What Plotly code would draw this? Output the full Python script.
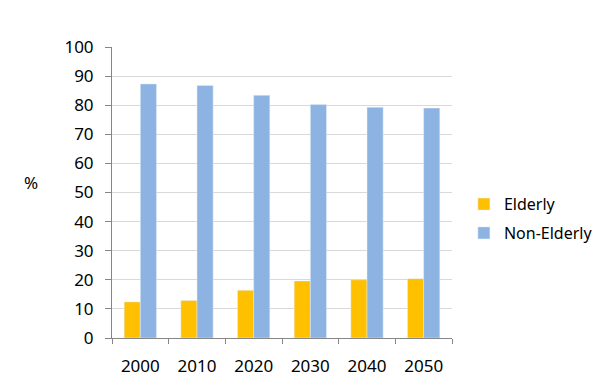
import plotly.graph_objects as go

years = ["2000", "2010", "2020", "2030", "2040", "2050"]
elderly = [12.4, 12.9, 16.4, 19.6, 20.0, 20.4]
non_elderly = [87.3, 86.8, 83.4, 80.2, 79.3, 79.0]
y_ticks = [0, 10, 20, 30, 40, 50, 60, 70, 80, 90, 100]

font = "Noto Sans"

fig = go.Figure()
fig.add_trace(go.Bar(x=years, y=elderly, name="Elderly", marker_color="#FFC000",
                     legendgroup="a"))
fig.add_trace(go.Bar(x=years, y=non_elderly, name="Non-Elderly", marker_color="#8DB3E2",
                     legendgroup="b"))

# page body has an 8px default margin, so the figure is sized to fit the 600x390 window
fig.update_layout(
    width=592, height=382,
    margin=dict(l=104, r=148, t=39, b=52, autoexpand=False),
    paper_bgcolor="white", plot_bgcolor="white",
    barmode="group", bargap=0.43, bargroupgap=0,
    font=dict(family=font, size=17, color="#000000"),
    legend=dict(x=1.035, y=0.41, xanchor="left", yanchor="middle",
                font=dict(size=16), tracegroupgap=5, itemwidth=30),
    showlegend=True,
)
fig.update_xaxes(
    showline=True, linecolor="#868686", linewidth=1, automargin=False,
    ticks="outside", ticklen=5, tickcolor="#868686", tickson="boundaries",
    tickfont=dict(size=17), showgrid=False, ticklabelstandoff=13,
)
fig.update_yaxes(
    range=[0, 100], tickvals=y_ticks, showline=True, linecolor="#868686", linewidth=1,
    automargin=False,
    ticks="outside", ticklen=6, tickcolor="#868686",
    gridcolor="#D9D9D9", gridwidth=1, tickfont=dict(size=17), zeroline=False,
    ticklabelstandoff=8,
)
fig.add_annotation(text="%", xref="paper", yref="paper", x=-0.238, y=0.533,
                   xanchor="center", yanchor="middle", showarrow=False,
                   font=dict(size=17))
fig.write_html("out.html")
